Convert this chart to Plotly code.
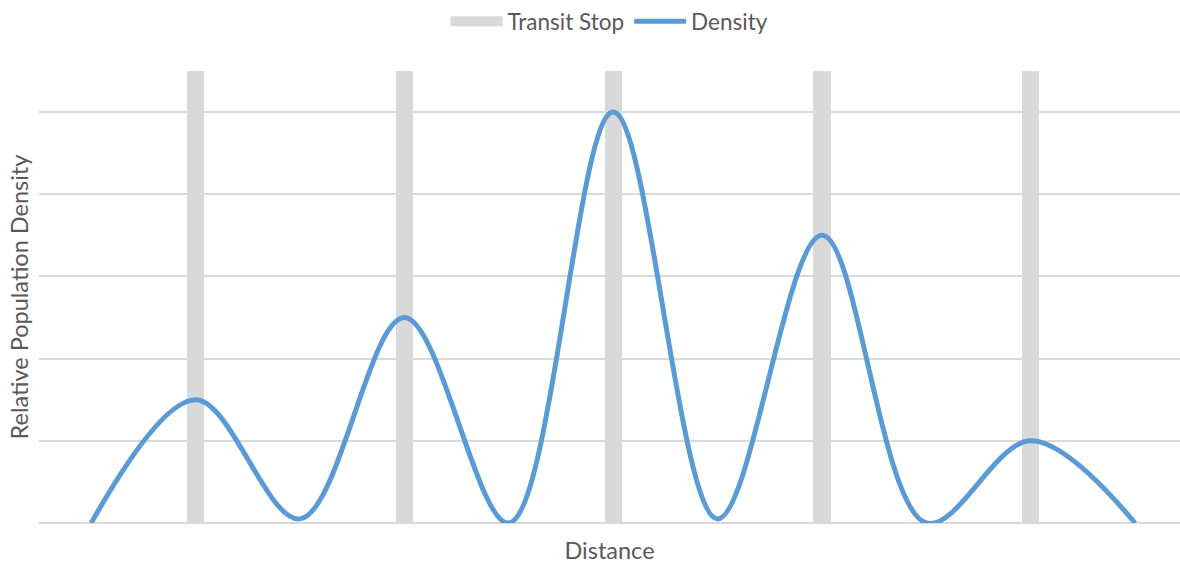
import plotly.graph_objects as go

# Data
positions = [0, 1, 2, 3, 4, 5, 6, 7, 8, 9, 10]
density = [0, 1.5, 0.05, 2.5, 0, 5, 0.05, 3.5, 0, 1, 0]
stop_positions = [1, 3, 5, 7, 9]
stop_heights = [5.5, 5.5, 5.5, 5.5, 5.5]

GRAY = "#D9D9D9"
BLUE = "#5B9BD5"
TEXT = "#595959"
FONT = "Lato"
FS_LEG = 22.5
FS_AX = 23.5

fig = go.Figure()

fig.add_trace(go.Bar(
    x=stop_positions, y=stop_heights, width=0.165,
    marker=dict(color=GRAY, line=dict(width=0)),
    name="Transit Stop", showlegend=False, legendgroup="stop",
    hoverinfo="skip",
))
# legend proxy for bars (wide rectangle symbol)
fig.add_trace(go.Scatter(
    x=[None], y=[None], mode="lines",
    line=dict(color=GRAY, width=12),
    name="Transit Stop", legendgroup="stop",
))
fig.add_trace(go.Scatter(
    x=positions, y=density, mode="lines",
    line=dict(color=BLUE, width=5, shape="spline", smoothing=1.0),
    name="Density",
))

fig.update_layout(
    width=1180, height=565,
    margin=dict(l=39, r=0, t=71, b=42),
    paper_bgcolor="white", plot_bgcolor="white",
    font=dict(family=FONT, size=FS_LEG, color=TEXT),
    showlegend=True,
    legend=dict(orientation="h", x=0.5, xanchor="center", y=1.0, yanchor="top",
                yref="container", itemwidth=52, font=dict(size=FS_LEG, color=TEXT),
                traceorder="normal", tracegroupgap=0),
    xaxis=dict(range=[-0.5, 10.43], showticklabels=False, showgrid=False,
               zeroline=False, showline=False, ticks="",
               title=dict(text="Distance", font=dict(size=FS_AX, color=TEXT), standoff=19)),
    yaxis=dict(range=[0, 5.5], dtick=1, showticklabels=False, showgrid=True,
               gridcolor=GRAY, gridwidth=1.5, zeroline=True, zerolinecolor=GRAY,
               zerolinewidth=1.5, showline=False, ticks="",
               title=dict(text="Relative Population Density", font=dict(size=FS_AX, color=TEXT),
                          standoff=2)),
    bargap=0,
)

fig.write_html("out.html", config={"displayModeBar": False},
               post_script="document.body.style.margin='0';")
